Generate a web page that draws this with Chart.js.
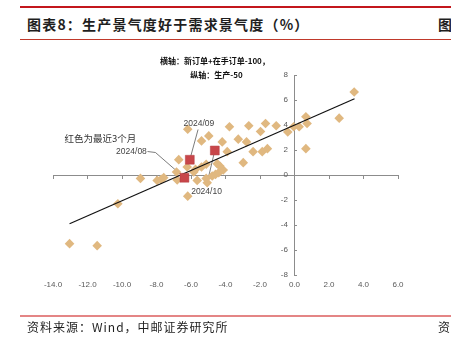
<!DOCTYPE html>
<html>
<head>
<meta charset="utf-8">
<script src="https://cdn.jsdelivr.net/npm/chart.js@4.4.1/dist/chart.umd.min.js"></script>
<style>
  html, body { margin: 0; padding: 0; background: #fff; }
  body { width: 451px; height: 338px; position: relative; overflow: hidden; font-family: "Noto Sans CJK SC", sans-serif; }
  .abs { position: absolute; white-space: nowrap; }
  #chartWrap { position: absolute; left: 0; top: 0; width: 451px; height: 338px; }
</style>
</head>
<body>
<div class="abs" style="left:20px;top:6px;width:431px;height:2px;background:#c3161c;"></div>
<div class="abs" id="title" style="left:27px;top:14px;font-size:14px;font-weight:700;letter-spacing:1.2px;color:#1f1f1f;line-height:20px;">图表8：生产景气度好于需求景气度（%）</div>
<div class="abs" style="left:438px;top:14px;font-size:14px;font-weight:700;color:#1f1f1f;line-height:20px;">图</div>
<div class="abs" style="left:20px;top:39px;width:431px;height:1px;background:#c0392b;"></div>

<div id="chartWrap"><canvas id="c" width="451" height="338"></canvas></div>

<div class="abs" style="left:160px;top:55px;width:108px;text-align:center;font-size:8px;font-weight:700;color:#111;line-height:12px;">横轴：新订单+在手订单-100，</div>
<div class="abs" style="left:188px;top:69px;width:57px;text-align:center;font-size:8px;font-weight:700;color:#111;line-height:12px;">纵轴：生产-50</div>

<div class="abs" style="left:20px;top:315px;width:431px;height:2px;background:#e48585;"></div>
<div class="abs" style="left:27px;top:319px;font-size:12px;letter-spacing:1px;color:#1f1f1f;line-height:16px;">资料来源：Wind，中邮证券研究所</div>
<div class="abs" style="left:438px;top:319px;font-size:12px;color:#1f1f1f;line-height:16px;">资</div>

<script>
// History: x = 新订单+在手订单-100, y = 生产-50
const histX = [3.46, 2.59, 0.66, 0.73, 0.66, 0.27, -0.05, -0.39, -1.06, -1.68, -1.97, -2.65, -3.77, -3.26, -2.78, -2.40, -1.87, -1.57, -2.97, -4.19, -3.90, -4.97, -5.39, -6.19,
               -6.71, -6.22, -5.74, -5.39, -5.12, -4.48, -4.13, -4.39, -4.58, -5.84, -6.84, -5.64, -5.12, -5.06, -4.77, -6.19, -6.80, -7.58, -7.73, -7.96, -8.93, -4.33,
               -10.24, -13.04, -11.44];
const histY = [6.64, 4.55, 4.66, 4.12, 2.11, 3.86, 3.86, 3.45, 3.94, 4.12, 3.48, 3.94, 3.86, 2.87, 2.65, 1.87, 1.87, 2.11, 0.99, 2.65, 1.87, 3.13, 2.73, 3.67,
               1.23, 0.64, 0.45, 0.64, 0.86, 0.91, 0.40, 0.19, 0.05, 0.24, 0.24, -0.43, -0.27, -0.62, -0.08, -1.69, -0.40, -0.21, -0.35, -0.43, -0.27, 0.72,
               -2.30, -5.49, -5.65];
// Latest 3 months
const recentLabels = ["2024/08", "2024/09", "2024/10"];
const recentX = [-6.38, -6.07, -4.62];
const recentY = [-0.22, 1.22, 1.96];
// Trend line endpoints
const trendX = [-13.04, 3.48];
const trendY = [-3.9, 6.1];
// Axis ticks
const xMin = -14, xMax = 6, xStep = 2;
const yMin = -8, yMax = 8, yStep = 2;
// Annotation text anchors (data units)
const noteText = "红色为最近3个月";
const noteAt = [-11.25, 2.92];
const labelAt = [[-9.45, 1.88], [-5.54, 4.12], [-5.10, -1.32]];
const leaderFrom = [[[-8.52, 1.88], [-8.06, 1.8]], [[-5.59, 3.64]], [[-5.10, -0.84]]];

const toPts = (xs, ys) => xs.map((x, i) => ({x: x, y: ys[i]}));

const annotPlugin = {
  id: 'annot',
  beforeDatasetsDraw(chart) {
    const ctx = chart.ctx, sx = chart.scales.x, sy = chart.scales.y;
    ctx.save();
    ctx.strokeStyle = '#5a5a5a';
    ctx.lineWidth = 0.8;
    leaderFrom.forEach((pts, i) => {
      ctx.beginPath();
      pts.forEach((p, j) => {
        const px = sx.getPixelForValue(p[0]), py = sy.getPixelForValue(p[1]);
        if (j === 0) ctx.moveTo(px, py); else ctx.lineTo(px, py);
      });
      ctx.lineTo(sx.getPixelForValue(recentX[i]), sy.getPixelForValue(recentY[i]));
      ctx.stroke();
    });
    ctx.restore();
  },
  afterDatasetsDraw(chart) {
    const ctx = chart.ctx, sx = chart.scales.x, sy = chart.scales.y;
    ctx.save();
    ctx.textAlign = 'center';
    ctx.textBaseline = 'middle';
    ctx.fillStyle = '#333';
    ctx.font = '9.5px "Noto Sans CJK SC"';
    ctx.fillText(noteText, sx.getPixelForValue(noteAt[0]), sy.getPixelForValue(noteAt[1]));
    ctx.fillStyle = '#444';
    ctx.font = '8.5px "Liberation Sans", Arial, sans-serif';
    recentLabels.forEach((t, i) => {
      ctx.fillText(t, sx.getPixelForValue(labelAt[i][0]), sy.getPixelForValue(labelAt[i][1]));
    });
    ctx.restore();
  }
};

const tickFont = {family: '"Liberation Sans", Arial, sans-serif', size: 8};
const tickColor = '#595959';
const axisColor = '#8c8c8c';

new Chart(document.getElementById('c'), {
  type: 'scatter',
  data: {
    datasets: [
      {
        label: '最近3个月',
        data: toPts(recentX, recentY),
        pointStyle: 'rect',
        pointRadius: 6.3,
        pointHoverRadius: 6.3,
        backgroundColor: '#c8464a',
        borderColor: '#b03a3e',
        borderWidth: 0.5,
        order: 0
      },
      {
        type: 'line',
        label: '趋势',
        data: toPts(trendX, trendY),
        borderColor: '#111',
        borderWidth: 1.2,
        pointRadius: 0,
        fill: false,
        order: 1
      },
      {
        label: '历史',
        data: toPts(histX, histY),
        pointStyle: 'rectRot',
        pointRadius: 4.8,
        pointHoverRadius: 4.8,
        backgroundColor: '#e0b880',
        borderWidth: 0,
        order: 2
      }
    ]
  },
  options: {
    responsive: false,
    animation: false,
    events: [],
    layout: { padding: { left: 53, right: 53, top: 75, bottom: 43 } },
    plugins: { legend: { display: false }, tooltip: { enabled: false } },
    scales: {
      x: {
        type: 'linear', position: 'bottom', min: xMin, max: xMax,
        border: { display: false },
        grid: { display: false, drawTicks: false },
        ticks: { stepSize: xStep, padding: 5, font: tickFont, color: tickColor, maxRotation: 0,
                 callback: v => Number(v).toFixed(1) },
        afterFit: s => { s.height = 20; }
      },
      x2: {
        type: 'linear', position: { y: 0 }, axis: 'x', min: xMin, max: xMax,
        border: { display: true, color: axisColor, width: 1 },
        grid: { drawOnChartArea: false, tickLength: 3, color: axisColor },
        ticks: { display: false, stepSize: xStep },
        afterFit: s => { s.height = 0; }
      },
      y: {
        type: 'linear', position: { x: 0 }, min: yMin, max: yMax,
        border: { display: true, color: axisColor, width: 1 },
        grid: { drawOnChartArea: false, tickLength: -3, color: axisColor },
        ticks: { display: false, stepSize: yStep },
        afterFit: s => { s.width = 0; }
      },
      yLabels: {
        type: 'linear', axis: 'y', position: { x: -0.38 }, min: yMin, max: yMax,
        border: { display: false },
        grid: { display: false, drawTicks: false },
        ticks: { stepSize: yStep, font: tickFont, color: tickColor },
        afterFit: s => { s.width = 0; }
      }
    }
  },
  plugins: [annotPlugin]
});
</script>
</body>
</html>
